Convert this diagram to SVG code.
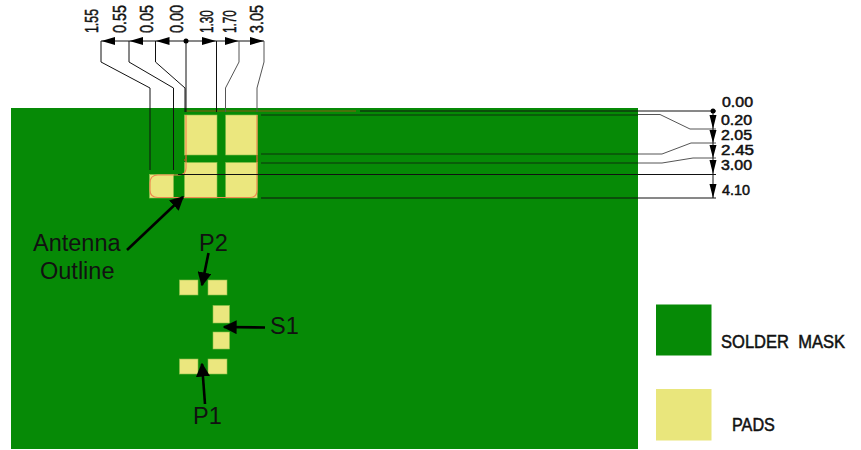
<svg xmlns="http://www.w3.org/2000/svg" width="861" height="450" viewBox="0 0 861 450">
<style>
.mask{fill:#068a06}
.pad{fill:#ebe77e;stroke:#8cc04a;stroke-width:.6}
.dim{fill:none;stroke:#111;stroke-width:1}
.soft{fill:none;stroke:#555;stroke-width:1}
.out{fill:none;stroke:#ee8a50;stroke-width:1.2}
.arrow{fill:none;stroke:#000;stroke-width:2.6}
.head{fill:#000}
.cad{font-family:"Liberation Sans",Arial,sans-serif;fill:#111;stroke:#111;stroke-width:.5}
.lab{font-family:"Liberation Sans",Arial,sans-serif;font-size:23.5px;fill:#111}
</style>
<defs>
<marker id="ah" viewBox="0 0 10 10" refX="9" refY="5" markerWidth="5.4" markerHeight="5.4" markerUnits="strokeWidth" orient="auto"><path d="M0 0L10 5L0 10Z" fill="#000"/></marker>
</defs>
<rect width="861" height="450" fill="#fff"/>
<rect id="board" class="mask" x="11" y="108" width="627" height="341"/>
<g id="antenna-pads">
<rect class="pad" x="184.500" y="115" width="32.500" height="40"/>
<rect class="pad" x="225.700" y="115" width="31.500" height="40"/>
<rect class="pad" x="184.500" y="162.500" width="32.500" height="35.500"/>
<rect class="pad" x="225.700" y="162.500" width="31.500" height="35.500"/>
<rect class="pad" x="149.500" y="174.500" width="24" height="23.500"/>
</g>
<g id="small-pads">
<rect class="pad" x="179.500" y="280" width="18.500" height="15"/>
<rect class="pad" x="208" y="280" width="19" height="15"/>
<rect class="pad" x="213" y="305.500" width="16.500" height="17.500"/>
<rect class="pad" x="213" y="332" width="16.500" height="17"/>
<rect class="pad" x="179.500" y="359" width="18.500" height="15"/>
<rect class="pad" x="208" y="359" width="19" height="15"/>
</g>
<g id="antenna-outline">
<path class="out" d="M186 115V168Q186 175 179 175H158Q150 175 150 183V190Q150 197.500 158 197.500H250Q257 197.500 257 190V115"/>
<path d="M186 111H356M184.500 161V159M186 155V162M257 155V162" fill="none" stroke="#8a5a10" stroke-width="1"/>
</g>
<g id="connectors">
<path class="dim" d="M101 41H264M101 41V62L150 88V170M129 41V62L173.500 88V170M155.500 41V62L185 88V112M186 41V112M216.500 41V112"/>
<path class="soft" d="M239 41V62L225.500 88V112M264 41V62L257 88V112"/>
<path class="dim" d="M360 111H716"/>
<path d="M261 115H638" fill="none" stroke="#0b4f0b" stroke-width="1.300"/>
<path class="soft" d="M638 114.500H660L690 129H716M638 154H662L691 143H716M638 163H662L693 158H716"/>
<path d="M261 154H638M261 163H638" fill="none" stroke="#0b4f0b" stroke-width="1.300"/>
<path class="dim" d="M178 174.500H716M261 198H716"/>
<path class="dim" d="M713 111V198"/>
<g class="head">
<circle cx="186" cy="41" r="2.500"/>
<path d="M101.500 41L115 37V45ZM129.500 41L143 37V45ZM156 41L169.500 37V45Z"/>
<path d="M216 41L202 37V45ZM238.500 41L225 37V45ZM264 41L250 37V45Z"/>
<circle cx="713" cy="111" r="2.500"/>
<path d="M713 129L709.500 115H716.500ZM713 143L709.500 130H716.500ZM713 158L709.500 145H716.500ZM713 174L709.500 160H716.500ZM713 198L709.500 184H716.500Z"/>
</g>
<line class="arrow" x1="127" y1="250" x2="183" y2="197" marker-end="url(#ah)"/>
<line class="arrow" x1="208.500" y1="253" x2="202" y2="285" marker-end="url(#ah)"/>
<line class="arrow" x1="265" y1="327.500" x2="224" y2="327" marker-end="url(#ah)"/>
<line class="arrow" x1="205" y1="404" x2="202" y2="364" marker-end="url(#ah)"/>
</g>
<g id="top-dimensions" class="cad" font-size="19">
<text transform="translate(98.300 33) rotate(-90) scale(.65 1)">1.55</text>
<text transform="translate(125.700 33) rotate(-90) scale(.757 1)">0.55</text>
<text transform="translate(152.700 33) rotate(-90) scale(.757 1)">0.05</text>
<text transform="translate(182.700 33) rotate(-90) scale(.757 1)">0.00</text>
<text transform="translate(213 33) rotate(-90) scale(.62 1)">1.30</text>
<text transform="translate(236 33) rotate(-90) scale(.62 1)">1.70</text>
<text transform="translate(262.700 33) rotate(-90) scale(.757 1)">3.05</text>
</g>
<g id="right-dimensions" class="cad" font-size="14">
<text x="722" y="107" textLength="31" lengthAdjust="spacingAndGlyphs">0.00</text>
<text x="721" y="125" textLength="31" lengthAdjust="spacingAndGlyphs">0.20</text>
<text x="721" y="140" textLength="31" lengthAdjust="spacingAndGlyphs">2.05</text>
<text x="721" y="155" textLength="33" lengthAdjust="spacingAndGlyphs">2.45</text>
<text x="721" y="170" textLength="31" lengthAdjust="spacingAndGlyphs">3.00</text>
<text x="722" y="195" textLength="28" lengthAdjust="spacingAndGlyphs">4.10</text>
</g>
<g id="labels">
<text class="lab" x="33" y="251">Antenna</text>
<text class="lab" x="40" y="279">Outline</text>
<text class="lab" x="199" y="251">P2</text>
<text class="lab" x="270" y="334">S1</text>
<text class="lab" x="193" y="424">P1</text>
</g>
<g id="legend-mask">
<rect class="mask" x="656" y="304.500" width="55.500" height="51"/>
<text class="cad" transform="translate(721 348) scale(.92 1)" font-size="18" xml:space="preserve">SOLDER  MASK</text>
</g>
<g id="legend-pads">
<rect x="656" y="389" width="55.500" height="51.500" fill="#e9e67c"/>
<text class="cad" transform="translate(732 431) scale(.9 1)" font-size="18">PADS</text>
</g>
</svg>
